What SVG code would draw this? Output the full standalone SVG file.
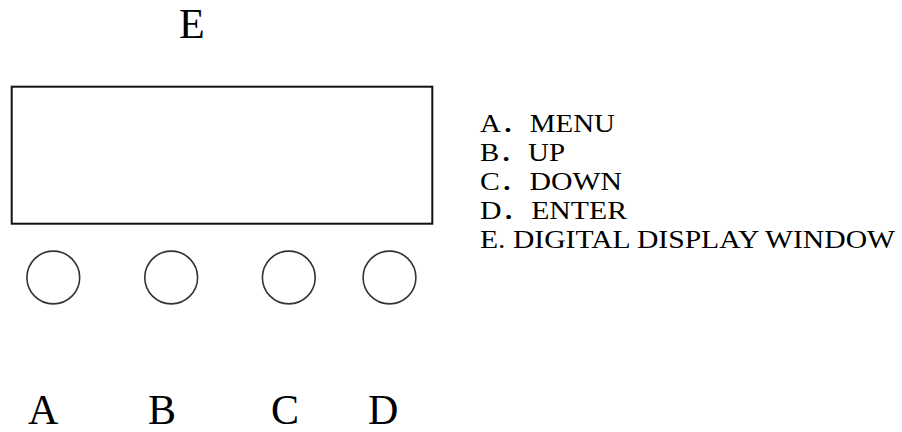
<svg xmlns="http://www.w3.org/2000/svg" width="902" height="432" viewBox="0 0 902 432">
<style>
.big{font-family:"Liberation Serif","Noto Sans CJK SC",serif;font-size:42px;fill:#000}
.lst{font-family:"Liberation Serif","Noto Sans CJK SC",serif;font-size:26px;fill:#000}
.btn{fill:none;stroke:#333;stroke-width:1.6}
</style>
<rect width="902" height="432" fill="#fff"/>
<g id="display">
<rect x="11.7" y="86.7" width="420.6" height="137" fill="none" stroke="#111" stroke-width="2"/>
<text class="big" x="179" y="38">E</text>
</g>
<g id="btnA"><circle class="btn" cx="53.3" cy="277.5" r="26.4"/><text class="big" x="28" y="424">A</text></g>
<g id="btnB"><circle class="btn" cx="171.2" cy="277.5" r="26.4"/><text class="big" x="148" y="424">B</text></g>
<g id="btnC"><circle class="btn" cx="288.8" cy="277.5" r="26.4"/><text class="big" x="271" y="424">C</text></g>
<g id="btnD"><circle class="btn" cx="389.5" cy="277.5" r="26.4"/><text class="big" x="368" y="424">D</text></g>
<g id="legend">
<text class="lst" x="480" y="132.3" textLength="135" lengthAdjust="spacingAndGlyphs">A．MENU</text>
<text class="lst" x="480" y="161" textLength="85" lengthAdjust="spacingAndGlyphs">B．UP</text>
<text class="lst" x="480" y="190" textLength="142" lengthAdjust="spacingAndGlyphs">C．DOWN</text>
<text class="lst" x="480" y="219" textLength="147" lengthAdjust="spacingAndGlyphs">D．ENTER</text>
<text class="lst" x="480" y="247.7" textLength="415" lengthAdjust="spacingAndGlyphs">E. DIGITAL DISPLAY WINDOW</text>
</g>
<g id="connectors"/>
</svg>
